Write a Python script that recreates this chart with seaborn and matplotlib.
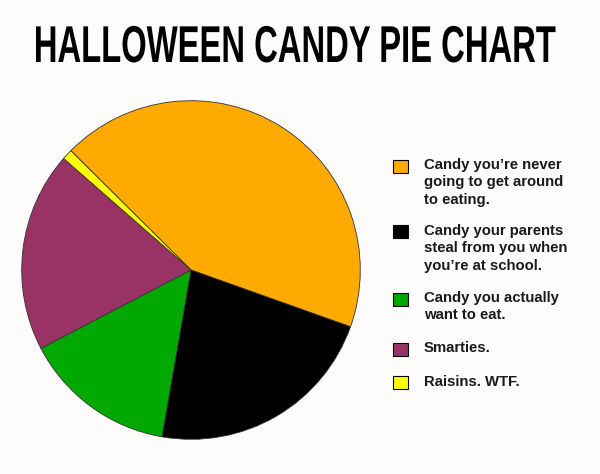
import matplotlib
matplotlib.use("Agg")
import matplotlib.pyplot as plt
import seaborn as sns
from matplotlib.patches import Rectangle
from matplotlib.patheffects import AbstractPathEffect
from matplotlib.transforms import Affine2D

# data
labels = [
    "Candy you\u2019re never\ngoing to get around\nto eating.",
    "Candy your parents\nsteal from you when\nyou\u2019re at school.",
    "Candy you actually\nwant to eat.",
    "Smarties.",
    "Raisins. WTF.",
]
shares = [43, 22.3, 14.6, 19.1, 1.0]
colors = ["#FFAA00", "#000000", "#00A800", "#993366", "#FFFF00"]

bg = "#FDFCFA"
sns.set_theme(style="white")
plt.rcParams["font.family"] = ["Liberation Sans", "DejaVu Sans"]

W, H = 600, 474
fig = plt.figure(figsize=(6, 4.74), dpi=100, facecolor=bg)


class Stretch(AbstractPathEffect):
    # stretch glyphs upward from the baseline, for a tall Impact-like title
    def __init__(self, sy, base):
        super().__init__()
        self.sy, self.base = sy, base

    def draw_path(self, renderer, gc, tpath, affine, rgbFace=None):
        t = affine + Affine2D().translate(0, -self.base).scale(1, self.sy).translate(0, self.base)
        renderer.draw_path(gc, tpath, t, rgbFace)


# pie: center (191, 270) px, radius 171 px
ax = fig.add_axes([20 / W, 1 - 441 / H, 342 / W, 342 / H])
ax.set_facecolor(bg)
ax.pie(shares, colors=colors, startangle=135.2, counterclock=False,
       radius=1, wedgeprops=dict(edgecolor="#333333", linewidth=0.6))
ax.set_xlim(-1.01, 1.01)
ax.set_ylim(-1.01, 1.01)
ax.set_aspect("equal")
ax.axis("off")

fig.text(295 / W, 1 - 62 / H, "HALLOWEEN CANDY PIE CHART",
         weight="bold", fontsize=23.6, ha="center", va="baseline", color="black",
         path_effects=[Stretch(1.58, H - 62)])

# legend drawn by hand so the box sits beside the first line
box_tops = [160, 225, 293, 343, 376]
text_tops = [158, 224, 291, 341, 375]
for lab, col, bt, tt in zip(labels, colors, box_tops, text_tops):
    fig.patches.append(Rectangle((393 / W, 1 - (bt + 13) / H), 15 / W, 13 / H,
                                 transform=fig.transFigure, facecolor=col,
                                 edgecolor="black", linewidth=0.8))
    fig.text(424 / W, 1 - tt / H, lab, fontsize=10.7, weight="bold",
             color="#1a1a1a", ha="left", va="top", linespacing=1.3)

fig.savefig("out.png", dpi=100, facecolor=bg)
